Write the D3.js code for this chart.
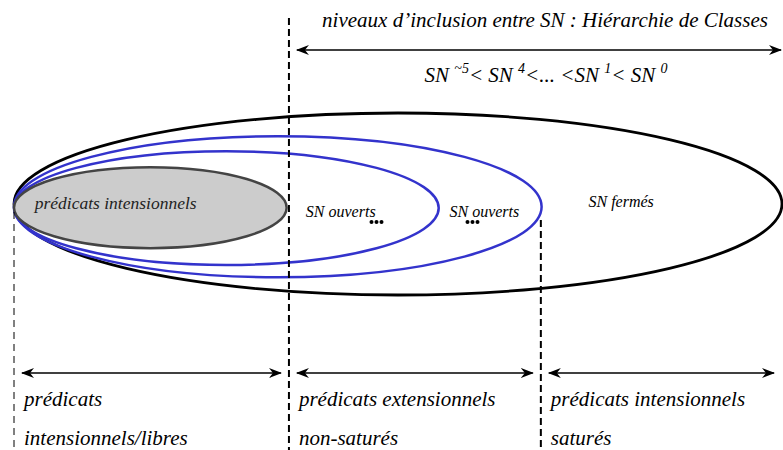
<!DOCTYPE html>
<html>
<head>
<meta charset="utf-8">
<script src="https://cdn.jsdelivr.net/npm/d3@7"></script>
</head>
<body style="margin:0">
<svg id="chart" width="783" height="450"></svg>
<script>
// nested classes (x extent on the inclusion axis, half-height, vertical offset)
const classNames = ['SN fermés', 'SN ouverts 1', 'SN ouverts 2', 'prédicats intensionnels'];
const classRight = [1, 0.687, 0.553, 0.355];
const classHalfHeight = [1, 0.775, 0.625, 0.445];
const classMid = [0, -0.03, -0.045, -0.04];

// boundaries between predicate zones
const boundaries = [0, 0.358, 0.686];
const zoneLine1 = ['prédicats', 'prédicats extensionnels', 'prédicats intensionnels'];
const zoneLine2 = ['intensionnels/libres', 'non-saturés', 'saturés'];

// labels inside the ellipses
const innerLabels = ['prédicats intensionnels', 'SN ouverts', 'SN ouverts', 'SN fermés'];
const innerLabelX = [0.027, 0.38, 0.567, 0.748];
const innerLabelY = [0.0, -0.09, -0.09, 0.02];
const dotsX = [0.472, 0.597];

const title = 'niveaux d\u2019inclusion entre SN : Hiérarchie de Classes';
const formula = [['SN ', '~5'], ['< SN ', '4'], ['<... <SN ', '1'], ['< SN ', '0']];

const svg = d3.select('#chart');

const x = d3.scaleLinear().domain([0, 1]).range([14, 782]);
const y = d3.scaleLinear().domain([-1, 1]).range([295, 113]);

const defs = svg.append('defs');
defs.append('marker')
  .attr('id', 'head')
  .attr('viewBox', '-12 -6 14 12')
  .attr('refX', 0).attr('refY', 0)
  .attr('markerWidth', 14).attr('markerHeight', 12)
  .attr('markerUnits', 'userSpaceOnUse')
  .attr('orient', 'auto-start-reverse')
  .append('path')
  .attr('d', 'M1,0 L-12,-5 L-8,0 L-12,5 Z')
  .attr('fill', '#000');

function label(sel) {
  return sel.attr('font-family', 'Liberation Serif')
    .attr('font-style', 'italic');
}

// ellipses
const colors = ['#000', '#3333cc', '#3333cc', '#444'];
const fills = ['none', 'none', 'none', '#cccccc'];
classNames.forEach((name, i) => {
  const rx = (x(classRight[i]) - x(0)) / 2;
  const ry = Math.abs(y(classHalfHeight[i]) - y(0));
  svg.append('ellipse')
    .attr('cx', x(0) + rx)
    .attr('cy', y(classMid[i]))
    .attr('rx', rx)
    .attr('ry', ry)
    .attr('fill', fills[i])
    .attr('stroke', colors[i])
    .attr('stroke-width', i === 0 ? 2.8 : 2.5);
});

// inner labels
innerLabels.forEach((t, i) => {
  label(svg.append('text'))
    .attr('x', x(innerLabelX[i]))
    .attr('y', y(innerLabelY[i]) + 5)
    .attr('font-size', i === 0 ? 17.5 : 16)
    .attr('fill', i === 0 ? '#222' : '#000')
    .text(t);
});
dotsX.forEach(d => {
  [-5, 0, 5].forEach(o => {
    svg.append('circle')
      .attr('cx', x(d) + o)
      .attr('cy', 222)
      .attr('r', 2)
      .attr('fill', '#000');
  });
});

// dashed boundaries
const dashTop = [212, 18, 220];
boundaries.forEach((b, i) => {
  svg.append('line')
    .attr('x1', x(b)).attr('x2', x(b))
    .attr('y1', dashTop[i]).attr('y2', 450)
    .attr('stroke', '#000')
    .attr('stroke-width', i === 0 ? 1 : 2)
    .attr('stroke-dasharray', i === 0 ? '7,5' : '7,4');
});

// top arrow + title
svg.append('line')
  .attr('x1', x(boundaries[1]) + 8).attr('x2', 781)
  .attr('y1', 50).attr('y2', 50)
  .attr('stroke', '#000').attr('stroke-width', 1.5)
  .attr('marker-start', 'url(#head)')
  .attr('marker-end', 'url(#head)');

label(svg.append('text'))
  .attr('x', 545).attr('y', 27)
  .attr('text-anchor', 'middle')
  .attr('font-size', 21)
  .text(title);

const ft = label(svg.append('text'))
  .attr('x', 546).attr('y', 82)
  .attr('text-anchor', 'middle')
  .attr('font-size', 21);
formula.forEach(([base, sup], i) => {
  ft.append('tspan').attr('dy', i === 0 ? 0 : 9).text(base);
  ft.append('tspan').attr('font-size', 14).attr('dy', -9).text(sup);
});

// bottom arrows + zone labels
const zoneEnds = boundaries.slice(1).concat([1]);
boundaries.forEach((b, i) => {
  svg.append('line')
    .attr('x1', x(b) + 8).attr('x2', x(zoneEnds[i]) - 8)
    .attr('y1', 373).attr('y2', 373)
    .attr('stroke', '#000').attr('stroke-width', 1.5)
    .attr('marker-start', 'url(#head)')
    .attr('marker-end', 'url(#head)');
  label(svg.append('text'))
    .attr('x', x(b) + 10).attr('y', 406)
    .attr('font-size', 21)
    .text(zoneLine1[i]);
  label(svg.append('text'))
    .attr('x', x(b) + 10).attr('y', 445)
    .attr('font-size', 21)
    .text(zoneLine2[i]);
});
</script>
</body>
</html>
